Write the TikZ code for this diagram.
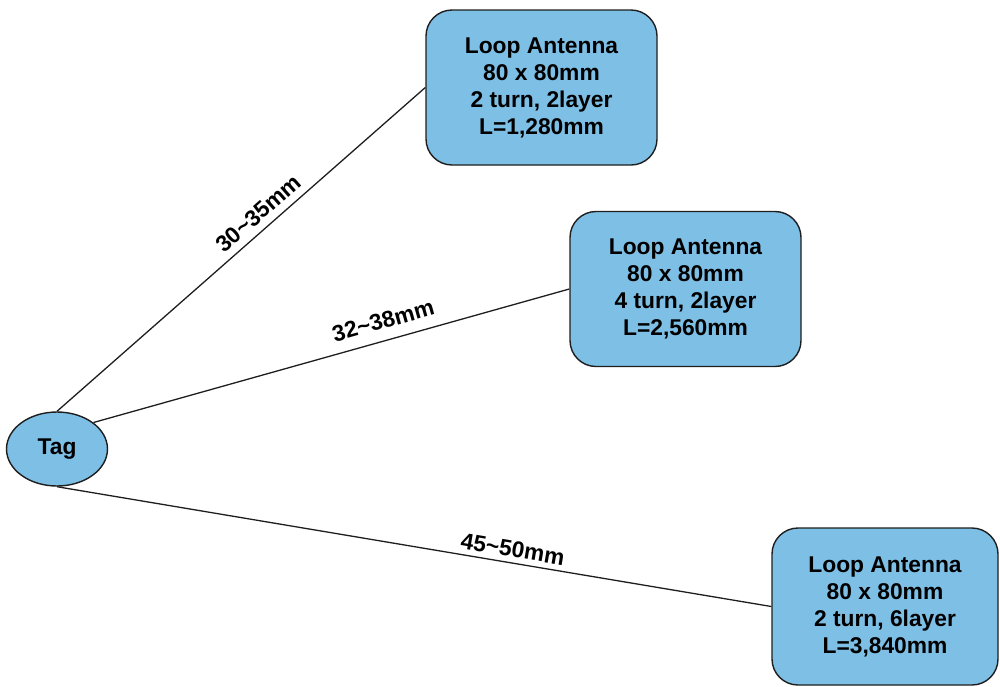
\documentclass[tikz,border=0pt]{standalone}
\usepackage{fontspec}
\setmainfont{Liberation Sans}
\usetikzlibrary{shapes.geometric}
\definecolor{boxblue}{RGB}{126,191,230}
\definecolor{edgegray}{RGB}{30,30,30}
\begin{document}
\begin{tikzpicture}[x=1pt,y=-1pt,
  every node/.style={font=\bfseries\fontsize{22.8}{27}\selectfont, text=black},
  antenna/.style={draw=edgegray, line width=1.4pt, fill=boxblue, rounded corners=26pt,
    minimum width=231pt, minimum height=155pt, inner sep=0pt, align=center},
  tagnode/.style={draw=edgegray, line width=1.4pt, fill=boxblue, ellipse,
    minimum width=101pt, minimum height=74pt, inner sep=0pt},
  conn/.style={draw=edgegray, line width=1.3pt},
  dist/.style={sloped, inner sep=0pt}
]
\useasboundingbox (0,0) rectangle (1000,686);
\node[tagnode] (tag) at (57,449) {Tag};
\node[antenna] (a1) at (541.5,87.5) {Loop Antenna\\80 x 80mm\\2 turn, 2layer\\L=1,280mm};
\node[antenna] (a2) at (685.5,289) {Loop Antenna\\80 x 80mm\\4 turn, 2layer\\L=2,560mm};
\node[antenna, minimum width=226pt, minimum height=157pt] (a3) at (885,606.5) {Loop Antenna\\80 x 80mm\\2 turn, 6layer\\L=3,840mm};
\draw[conn] (tag.north) -- node[dist, pos=0.575, above=7pt] {30\textasciitilde35mm} (a1.west);
\draw[conn] (tag.36) -- node[dist, pos=0.62, above=11pt] {32\textasciitilde38mm} (a2.west);
\draw[conn] (tag.south) -- node[dist, pos=0.635, above=5pt] {45\textasciitilde50mm} (a3.west);
\end{tikzpicture}
\end{document}
